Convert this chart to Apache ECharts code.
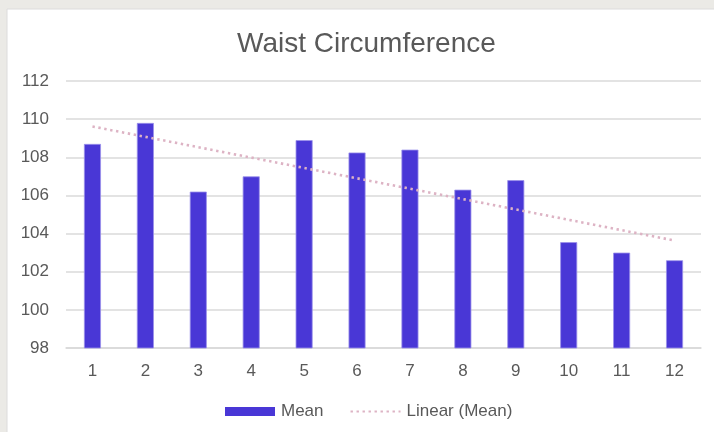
<!DOCTYPE html>
<html>
<head>
<meta charset="utf-8">
<script src="https://cdn.jsdelivr.net/npm/echarts@6/dist/echarts.min.js"></script>
<style>
html,body{margin:0;padding:0;background:#ebeae6;}
#chart{width:714px;height:432px;}
</style>
</head>
<body>
<div id="chart"></div>
<script>
var categories = ['1','2','3','4','5','6','7','8','9','10','11','12'];
var meanValues = [108.7, 109.8, 106.2, 107.0, 108.9, 108.25, 108.4, 106.3, 106.8, 103.55, 103.0, 102.6];
var yTicks = [98, 100, 102, 104, 106, 108, 110, 112];
var titleText = 'Waist Circumference';
var seriesNames = ['Mean', 'Linear (Mean)'];

// Least-squares linear trendline of the Mean series (as the original's "Linear (Mean)")
function linearFit(vals) {
  var n = vals.length, sx = 0, sy = 0, sxx = 0, sxy = 0;
  for (var i = 0; i < n; i++) { var x = i + 1; sx += x; sy += vals[i]; sxx += x * x; sxy += x * vals[i]; }
  var b = (n * sxy - sx * sy) / (n * sxx - sx * sx);
  var a = (sy - b * sx) / n;
  return vals.map(function (_, i) { return a + b * (i + 1); });
}
var trendValues = linearFit(meanValues);

var FONT = '"Liberation Sans", Arial, sans-serif';
var TXT = '#595959';
var chart = echarts.init(document.getElementById('chart'), null, {renderer: 'canvas'});
chart.setOption({
  backgroundColor: '#ebeae6',
  animation: false,
  graphic: [{
    type: 'rect', z: -10, silent: true,
    shape: {x: 7, y: 9, width: 710, height: 426},
    style: {fill: '#ffffff', stroke: '#dcdcdc', lineWidth: 1}
  }],
  title: {
    text: titleText, left: 232, top: 25,
    textStyle: {fontFamily: FONT, fontSize: 28, fontWeight: 'normal', color: TXT}
  },
  legend: {
    data: [
      {name: seriesNames[0], icon: 'rect', itemStyle: {borderWidth: 0}},
      {name: seriesNames[1], itemStyle: {color: 'rgba(0,0,0,0)', borderWidth: 0}}
    ],
    left: 220, top: 398,
    itemWidth: 50, itemHeight: 9, itemGap: 26,
    textStyle: {fontFamily: FONT, fontSize: 17, color: TXT, padding: [0, 0, 0, 1]}
  },
  grid: {left: 66, right: 13, top: 81, bottom: 84},
  xAxis: {
    type: 'category', data: categories,
    axisLine: {lineStyle: {color: '#d9d9d9', width: 1.5}},
    axisTick: {show: false},
    axisLabel: {fontFamily: FONT, fontSize: 17, color: TXT, margin: 15}
  },
  yAxis: {
    type: 'value', min: yTicks[0], max: yTicks[yTicks.length - 1], interval: 2,
    axisLine: {show: false}, axisTick: {show: false},
    splitLine: {lineStyle: {color: '#dadada', width: 1.5}},
    axisLabel: {fontFamily: FONT, fontSize: 17, color: TXT, margin: 17}
  },
  series: [{
    name: seriesNames[0], type: 'bar', data: meanValues, barWidth: 17,
    itemStyle: {color: '#4937d6', borderColor: '#9b91ea', borderWidth: 0.8}
  }, {
    name: seriesNames[1], type: 'line', data: trendValues, symbol: 'none',
    lineStyle: {color: '#ddb3c4', width: 2.6, type: [2.4, 3.6]},
    itemStyle: {color: '#ddb3c4'}
  }]
});
</script>
</body>
</html>
